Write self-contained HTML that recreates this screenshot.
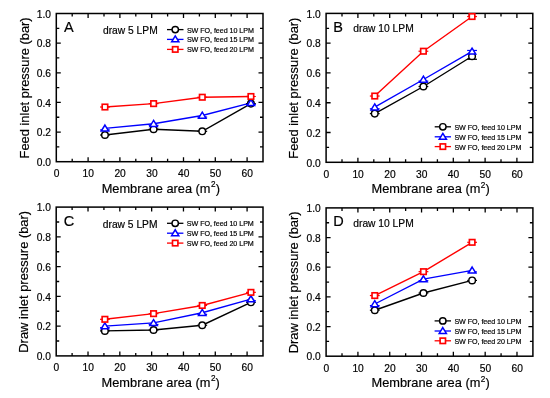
<!DOCTYPE html>
<html><head><meta charset="utf-8"><style>
html,body{margin:0;padding:0;background:#fff;width:550px;height:398px;overflow:hidden}
svg{display:block;will-change:transform}
text{font-family:"Liberation Sans", sans-serif;fill:#000;stroke:#000;stroke-width:0.18px}
.t{font-size:10px}
.ti{font-size:12.9px}
.tx{font-size:12.8px}
.le{font-size:14.5px}
.dr{font-size:10.25px}
.lg{font-size:7.15px;letter-spacing:-0.05px}
</style></head><body>
<svg width="550" height="398" viewBox="0 0 550 398">
<rect width="550" height="398" fill="#fff"/>
<path d="M72.20 161.70V158.70M72.20 13.50V16.50M88.10 161.70V157.20M88.10 13.50V18.00M104.00 161.70V158.70M104.00 13.50V16.50M119.90 161.70V157.20M119.90 13.50V18.00M135.80 161.70V158.70M135.80 13.50V16.50M151.70 161.70V157.20M151.70 13.50V18.00M167.60 161.70V158.70M167.60 13.50V16.50M183.50 161.70V157.20M183.50 13.50V18.00M199.40 161.70V158.70M199.40 13.50V16.50M215.30 161.70V157.20M215.30 13.50V18.00M231.20 161.70V158.70M231.20 13.50V16.50M247.10 161.70V157.20M247.10 13.50V18.00M56.30 146.88H59.30M263.00 146.88H260.00M56.30 132.06H60.80M263.00 132.06H258.50M56.30 117.24H59.30M263.00 117.24H260.00M56.30 102.42H60.80M263.00 102.42H258.50M56.30 87.60H59.30M263.00 87.60H260.00M56.30 72.78H60.80M263.00 72.78H258.50M56.30 57.96H59.30M263.00 57.96H260.00M56.30 43.14H60.80M263.00 43.14H258.50M56.30 28.32H59.30M263.00 28.32H260.00" stroke="#000" stroke-width="1.3" fill="none"/>
<rect x="56.30" y="13.50" width="206.70" height="148.20" fill="none" stroke="#000" stroke-width="1.5"/>
<text transform="translate(56.50,177.10) scale(1.025,1)" text-anchor="middle" class="t">0</text>
<text transform="translate(88.30,177.10) scale(1.025,1)" text-anchor="middle" class="t">10</text>
<text transform="translate(120.10,177.10) scale(1.025,1)" text-anchor="middle" class="t">20</text>
<text transform="translate(151.90,177.10) scale(1.025,1)" text-anchor="middle" class="t">30</text>
<text transform="translate(183.70,177.10) scale(1.025,1)" text-anchor="middle" class="t">40</text>
<text transform="translate(215.50,177.10) scale(1.025,1)" text-anchor="middle" class="t">50</text>
<text transform="translate(247.30,177.10) scale(1.025,1)" text-anchor="middle" class="t">60</text>
<text transform="translate(51.00,165.90) scale(1.025,1)" text-anchor="end" class="t">0.0</text>
<text transform="translate(51.00,136.26) scale(1.025,1)" text-anchor="end" class="t">0.2</text>
<text transform="translate(51.00,106.62) scale(1.025,1)" text-anchor="end" class="t">0.4</text>
<text transform="translate(51.00,76.98) scale(1.025,1)" text-anchor="end" class="t">0.6</text>
<text transform="translate(51.00,47.34) scale(1.025,1)" text-anchor="end" class="t">0.8</text>
<text transform="translate(51.00,17.70) scale(1.025,1)" text-anchor="end" class="t">1.0</text>
<text x="101.70" y="192.80" class="tx">Membrane area (m<tspan dx="0.5" dy="-5.6" font-size="8.2">2</tspan><tspan dx="0.1" dy="5.6">)</tspan></text>
<text transform="translate(28.60,87.90) rotate(-90)" text-anchor="middle" class="ti">Feed inlet pressure (bar)</text>
<text x="64.10" y="31.80" class="le">A</text>
<text x="103.00" y="34.00" class="dr">draw 5 LPM</text>
<polyline points="104.95,135.02 153.61,129.24 202.26,131.32 250.92,103.61" fill="none" stroke="#000" stroke-width="1.4"/>
<polyline points="104.95,128.35 153.61,123.76 202.26,115.46 250.92,102.86" fill="none" stroke="#00f" stroke-width="1.4"/>
<polyline points="104.95,107.01 153.61,103.61 202.26,97.23 250.92,96.49" fill="none" stroke="#f00" stroke-width="1.4"/>
<path d="M100.05 135.02H109.85" stroke="#000" stroke-width="1.2"/>
<path d="M148.71 129.24H158.51" stroke="#000" stroke-width="1.2"/>
<path d="M197.36 131.32H207.16" stroke="#000" stroke-width="1.2"/>
<path d="M246.02 103.61H255.82" stroke="#000" stroke-width="1.2"/>
<circle cx="104.95" cy="135.02" r="3.30" fill="#fff" stroke="#000" stroke-width="1.45"/>
<circle cx="153.61" cy="129.24" r="3.30" fill="#fff" stroke="#000" stroke-width="1.45"/>
<circle cx="202.26" cy="131.32" r="3.30" fill="#fff" stroke="#000" stroke-width="1.45"/>
<circle cx="250.92" cy="103.61" r="3.30" fill="#fff" stroke="#000" stroke-width="1.45"/>
<path d="M100.05 129.95H109.85" stroke="#00f" stroke-width="1.2"/>
<path d="M148.71 125.36H158.51" stroke="#00f" stroke-width="1.2"/>
<path d="M197.36 117.06H207.16" stroke="#00f" stroke-width="1.2"/>
<path d="M246.02 104.46H255.82" stroke="#00f" stroke-width="1.2"/>
<polygon points="104.95,125.05 108.65,131.05 101.25,131.05" fill="#fff" stroke="#00f" stroke-width="1.5" stroke-linejoin="miter"/>
<polygon points="153.61,120.46 157.31,126.46 149.91,126.46" fill="#fff" stroke="#00f" stroke-width="1.5" stroke-linejoin="miter"/>
<polygon points="202.26,112.16 205.96,118.16 198.56,118.16" fill="#fff" stroke="#00f" stroke-width="1.5" stroke-linejoin="miter"/>
<polygon points="250.92,99.56 254.62,105.56 247.22,105.56" fill="#fff" stroke="#00f" stroke-width="1.5" stroke-linejoin="miter"/>
<path d="M100.05 107.01H109.85" stroke="#f00" stroke-width="1.2"/>
<path d="M148.71 103.61H158.51" stroke="#f00" stroke-width="1.2"/>
<path d="M197.36 97.23H207.16" stroke="#f00" stroke-width="1.2"/>
<path d="M246.02 96.49H255.82" stroke="#f00" stroke-width="1.2"/>
<rect x="102.20" y="104.26" width="5.50" height="5.50" fill="#fff" stroke="#f00" stroke-width="1.65"/>
<rect x="150.86" y="100.86" width="5.50" height="5.50" fill="#fff" stroke="#f00" stroke-width="1.65"/>
<rect x="199.51" y="94.48" width="5.50" height="5.50" fill="#fff" stroke="#f00" stroke-width="1.65"/>
<rect x="248.17" y="93.74" width="5.50" height="5.50" fill="#fff" stroke="#f00" stroke-width="1.65"/>
<path d="M167.00 29.60H183.50" stroke="#000" stroke-width="1.3"/>
<circle cx="175.25" cy="29.60" r="3.20" fill="#fff" stroke="#000" stroke-width="1.45"/>
<text x="186.90" y="32.60" class="lg">SW FO, feed 10 LPM</text>
<path d="M167.00 39.40H183.50" stroke="#00f" stroke-width="1.3"/>
<polygon points="175.25,35.95 178.85,41.85 171.65,41.85" fill="#fff" stroke="#00f" stroke-width="1.5" stroke-linejoin="miter"/>
<text x="186.90" y="42.40" class="lg">SW FO, feed 15 LPM</text>
<path d="M167.00 49.40H183.50" stroke="#f00" stroke-width="1.3"/>
<rect x="172.55" y="46.70" width="5.40" height="5.40" fill="#fff" stroke="#f00" stroke-width="1.65"/>
<text x="186.90" y="52.40" class="lg">SW FO, feed 20 LPM</text>
<path d="M342.00 162.30V159.30M342.00 13.40V16.40M357.90 162.30V157.80M357.90 13.40V17.90M373.80 162.30V159.30M373.80 13.40V16.40M389.70 162.30V157.80M389.70 13.40V17.90M405.60 162.30V159.30M405.60 13.40V16.40M421.50 162.30V157.80M421.50 13.40V17.90M437.40 162.30V159.30M437.40 13.40V16.40M453.30 162.30V157.80M453.30 13.40V17.90M469.20 162.30V159.30M469.20 13.40V16.40M485.10 162.30V157.80M485.10 13.40V17.90M501.00 162.30V159.30M501.00 13.40V16.40M516.90 162.30V157.80M516.90 13.40V17.90M326.10 147.41H329.10M532.80 147.41H529.80M326.10 132.52H330.60M532.80 132.52H528.30M326.10 117.63H329.10M532.80 117.63H529.80M326.10 102.74H330.60M532.80 102.74H528.30M326.10 87.85H329.10M532.80 87.85H529.80M326.10 72.96H330.60M532.80 72.96H528.30M326.10 58.07H329.10M532.80 58.07H529.80M326.10 43.18H330.60M532.80 43.18H528.30M326.10 28.29H329.10M532.80 28.29H529.80" stroke="#000" stroke-width="1.3" fill="none"/>
<rect x="326.10" y="13.40" width="206.70" height="148.90" fill="none" stroke="#000" stroke-width="1.5"/>
<text transform="translate(326.30,177.70) scale(1.025,1)" text-anchor="middle" class="t">0</text>
<text transform="translate(358.10,177.70) scale(1.025,1)" text-anchor="middle" class="t">10</text>
<text transform="translate(389.90,177.70) scale(1.025,1)" text-anchor="middle" class="t">20</text>
<text transform="translate(421.70,177.70) scale(1.025,1)" text-anchor="middle" class="t">30</text>
<text transform="translate(453.50,177.70) scale(1.025,1)" text-anchor="middle" class="t">40</text>
<text transform="translate(485.30,177.70) scale(1.025,1)" text-anchor="middle" class="t">50</text>
<text transform="translate(517.10,177.70) scale(1.025,1)" text-anchor="middle" class="t">60</text>
<text transform="translate(320.80,166.50) scale(1.025,1)" text-anchor="end" class="t">0.0</text>
<text transform="translate(320.80,136.72) scale(1.025,1)" text-anchor="end" class="t">0.2</text>
<text transform="translate(320.80,106.94) scale(1.025,1)" text-anchor="end" class="t">0.4</text>
<text transform="translate(320.80,77.16) scale(1.025,1)" text-anchor="end" class="t">0.6</text>
<text transform="translate(320.80,47.38) scale(1.025,1)" text-anchor="end" class="t">0.8</text>
<text transform="translate(320.80,17.60) scale(1.025,1)" text-anchor="end" class="t">1.0</text>
<text x="371.50" y="193.40" class="tx">Membrane area (m<tspan dx="0.5" dy="-5.6" font-size="8.2">2</tspan><tspan dx="0.1" dy="5.6">)</tspan></text>
<text transform="translate(298.40,88.15) rotate(-90)" text-anchor="middle" class="ti">Feed inlet pressure (bar)</text>
<text x="333.30" y="31.90" class="le">B</text>
<text x="353.30" y="31.50" class="dr">draw 10 LPM</text>
<polyline points="374.75,113.61 423.41,86.51 472.06,56.28" fill="none" stroke="#000" stroke-width="1.4"/>
<polyline points="374.75,107.21 423.41,79.51 472.06,51.37" fill="none" stroke="#00f" stroke-width="1.4"/>
<polyline points="374.75,96.04 423.41,51.22 472.06,16.53" fill="none" stroke="#f00" stroke-width="1.4"/>
<path d="M369.85 113.61H379.65" stroke="#000" stroke-width="1.2"/>
<path d="M418.51 86.51H428.31" stroke="#000" stroke-width="1.2"/>
<path d="M467.16 59.28H476.96" stroke="#000" stroke-width="1.2"/>
<circle cx="374.75" cy="113.61" r="3.30" fill="#fff" stroke="#000" stroke-width="1.45"/>
<circle cx="423.41" cy="86.51" r="3.30" fill="#fff" stroke="#000" stroke-width="1.45"/>
<circle cx="472.06" cy="56.28" r="3.30" fill="#fff" stroke="#000" stroke-width="1.45"/>
<path d="M369.85 108.81H379.65" stroke="#00f" stroke-width="1.2"/>
<path d="M418.51 81.11H428.31" stroke="#00f" stroke-width="1.2"/>
<path d="M467.16 50.47H476.96" stroke="#00f" stroke-width="1.2"/>
<polygon points="374.75,103.91 378.45,109.91 371.05,109.91" fill="#fff" stroke="#00f" stroke-width="1.5" stroke-linejoin="miter"/>
<polygon points="423.41,76.21 427.11,82.21 419.71,82.21" fill="#fff" stroke="#00f" stroke-width="1.5" stroke-linejoin="miter"/>
<polygon points="472.06,48.07 475.76,54.07 468.36,54.07" fill="#fff" stroke="#00f" stroke-width="1.5" stroke-linejoin="miter"/>
<path d="M369.85 96.04H379.65" stroke="#f00" stroke-width="1.2"/>
<path d="M418.51 51.22H428.31" stroke="#f00" stroke-width="1.2"/>
<path d="M467.16 16.53H476.96" stroke="#f00" stroke-width="1.2"/>
<rect x="372.00" y="93.29" width="5.50" height="5.50" fill="#fff" stroke="#f00" stroke-width="1.65"/>
<rect x="420.66" y="48.47" width="5.50" height="5.50" fill="#fff" stroke="#f00" stroke-width="1.65"/>
<rect x="469.31" y="13.78" width="5.50" height="5.50" fill="#fff" stroke="#f00" stroke-width="1.65"/>
<path d="M434.70 126.80H451.00" stroke="#000" stroke-width="1.3"/>
<circle cx="442.85" cy="126.80" r="3.20" fill="#fff" stroke="#000" stroke-width="1.45"/>
<text x="454.40" y="129.80" class="lg">SW FO, feed 10 LPM</text>
<path d="M434.70 136.80H451.00" stroke="#00f" stroke-width="1.3"/>
<polygon points="442.85,133.35 446.45,139.25 439.25,139.25" fill="#fff" stroke="#00f" stroke-width="1.5" stroke-linejoin="miter"/>
<text x="454.40" y="139.80" class="lg">SW FO, feed 15 LPM</text>
<path d="M434.70 146.60H451.00" stroke="#f00" stroke-width="1.3"/>
<rect x="440.15" y="143.90" width="5.40" height="5.40" fill="#fff" stroke="#f00" stroke-width="1.65"/>
<text x="454.40" y="149.60" class="lg">SW FO, feed 20 LPM</text>
<path d="M72.11 355.90V352.90M72.11 207.10V210.10M88.02 355.90V351.40M88.02 207.10V211.60M103.92 355.90V352.90M103.92 207.10V210.10M119.83 355.90V351.40M119.83 207.10V211.60M135.74 355.90V352.90M135.74 207.10V210.10M151.65 355.90V351.40M151.65 207.10V211.60M167.55 355.90V352.90M167.55 207.10V210.10M183.46 355.90V351.40M183.46 207.10V211.60M199.37 355.90V352.90M199.37 207.10V210.10M215.28 355.90V351.40M215.28 207.10V211.60M231.18 355.90V352.90M231.18 207.10V210.10M247.09 355.90V351.40M247.09 207.10V211.60M56.20 341.02H59.20M263.00 341.02H260.00M56.20 326.14H60.70M263.00 326.14H258.50M56.20 311.26H59.20M263.00 311.26H260.00M56.20 296.38H60.70M263.00 296.38H258.50M56.20 281.50H59.20M263.00 281.50H260.00M56.20 266.62H60.70M263.00 266.62H258.50M56.20 251.74H59.20M263.00 251.74H260.00M56.20 236.86H60.70M263.00 236.86H258.50M56.20 221.98H59.20M263.00 221.98H260.00" stroke="#000" stroke-width="1.3" fill="none"/>
<rect x="56.20" y="207.10" width="206.80" height="148.80" fill="none" stroke="#000" stroke-width="1.5"/>
<text transform="translate(56.40,371.30) scale(1.025,1)" text-anchor="middle" class="t">0</text>
<text transform="translate(88.22,371.30) scale(1.025,1)" text-anchor="middle" class="t">10</text>
<text transform="translate(120.03,371.30) scale(1.025,1)" text-anchor="middle" class="t">20</text>
<text transform="translate(151.85,371.30) scale(1.025,1)" text-anchor="middle" class="t">30</text>
<text transform="translate(183.66,371.30) scale(1.025,1)" text-anchor="middle" class="t">40</text>
<text transform="translate(215.48,371.30) scale(1.025,1)" text-anchor="middle" class="t">50</text>
<text transform="translate(247.29,371.30) scale(1.025,1)" text-anchor="middle" class="t">60</text>
<text transform="translate(50.90,360.10) scale(1.025,1)" text-anchor="end" class="t">0.0</text>
<text transform="translate(50.90,330.34) scale(1.025,1)" text-anchor="end" class="t">0.2</text>
<text transform="translate(50.90,300.58) scale(1.025,1)" text-anchor="end" class="t">0.4</text>
<text transform="translate(50.90,270.82) scale(1.025,1)" text-anchor="end" class="t">0.6</text>
<text transform="translate(50.90,241.06) scale(1.025,1)" text-anchor="end" class="t">0.8</text>
<text transform="translate(50.90,211.30) scale(1.025,1)" text-anchor="end" class="t">1.0</text>
<text x="101.60" y="387.00" class="tx">Membrane area (m<tspan dx="0.5" dy="-5.6" font-size="8.2">2</tspan><tspan dx="0.1" dy="5.6">)</tspan></text>
<text transform="translate(28.00,281.80) rotate(-90)" text-anchor="middle" class="ti">Draw inlet pressure (bar)</text>
<text x="63.80" y="226.00" class="le">C</text>
<text x="102.80" y="227.90" class="dr">draw 5 LPM</text>
<polyline points="104.88,330.90 153.56,330.01 202.23,325.25 250.91,302.33" fill="none" stroke="#000" stroke-width="1.4"/>
<polyline points="104.88,326.14 153.56,322.87 202.23,312.75 250.91,299.06" fill="none" stroke="#00f" stroke-width="1.4"/>
<polyline points="104.88,319.30 153.56,313.64 202.23,305.46 250.91,292.36" fill="none" stroke="#f00" stroke-width="1.4"/>
<path d="M99.98 330.90H109.78" stroke="#000" stroke-width="1.2"/>
<path d="M148.66 330.01H158.46" stroke="#000" stroke-width="1.2"/>
<path d="M197.33 325.25H207.13" stroke="#000" stroke-width="1.2"/>
<path d="M246.01 302.33H255.81" stroke="#000" stroke-width="1.2"/>
<circle cx="104.88" cy="330.90" r="3.30" fill="#fff" stroke="#000" stroke-width="1.45"/>
<circle cx="153.56" cy="330.01" r="3.30" fill="#fff" stroke="#000" stroke-width="1.45"/>
<circle cx="202.23" cy="325.25" r="3.30" fill="#fff" stroke="#000" stroke-width="1.45"/>
<circle cx="250.91" cy="302.33" r="3.30" fill="#fff" stroke="#000" stroke-width="1.45"/>
<path d="M99.98 327.74H109.78" stroke="#00f" stroke-width="1.2"/>
<path d="M148.66 324.47H158.46" stroke="#00f" stroke-width="1.2"/>
<path d="M197.33 314.35H207.13" stroke="#00f" stroke-width="1.2"/>
<path d="M246.01 300.66H255.81" stroke="#00f" stroke-width="1.2"/>
<polygon points="104.88,322.84 108.58,328.84 101.18,328.84" fill="#fff" stroke="#00f" stroke-width="1.5" stroke-linejoin="miter"/>
<polygon points="153.56,319.57 157.26,325.57 149.86,325.57" fill="#fff" stroke="#00f" stroke-width="1.5" stroke-linejoin="miter"/>
<polygon points="202.23,309.45 205.93,315.45 198.53,315.45" fill="#fff" stroke="#00f" stroke-width="1.5" stroke-linejoin="miter"/>
<polygon points="250.91,295.76 254.61,301.76 247.21,301.76" fill="#fff" stroke="#00f" stroke-width="1.5" stroke-linejoin="miter"/>
<path d="M99.98 319.30H109.78" stroke="#f00" stroke-width="1.2"/>
<path d="M148.66 313.64H158.46" stroke="#f00" stroke-width="1.2"/>
<path d="M197.33 305.46H207.13" stroke="#f00" stroke-width="1.2"/>
<path d="M246.01 292.36H255.81" stroke="#f00" stroke-width="1.2"/>
<rect x="102.13" y="316.55" width="5.50" height="5.50" fill="#fff" stroke="#f00" stroke-width="1.65"/>
<rect x="150.81" y="310.89" width="5.50" height="5.50" fill="#fff" stroke="#f00" stroke-width="1.65"/>
<rect x="199.48" y="302.71" width="5.50" height="5.50" fill="#fff" stroke="#f00" stroke-width="1.65"/>
<rect x="248.16" y="289.61" width="5.50" height="5.50" fill="#fff" stroke="#f00" stroke-width="1.65"/>
<path d="M167.00 223.30H183.40" stroke="#000" stroke-width="1.3"/>
<circle cx="175.20" cy="223.30" r="3.20" fill="#fff" stroke="#000" stroke-width="1.45"/>
<text x="186.80" y="226.30" class="lg">SW FO, feed 10 LPM</text>
<path d="M167.00 233.20H183.40" stroke="#00f" stroke-width="1.3"/>
<polygon points="175.20,229.75 178.80,235.65 171.60,235.65" fill="#fff" stroke="#00f" stroke-width="1.5" stroke-linejoin="miter"/>
<text x="186.80" y="236.20" class="lg">SW FO, feed 15 LPM</text>
<path d="M167.00 243.10H183.40" stroke="#f00" stroke-width="1.3"/>
<rect x="172.50" y="240.40" width="5.40" height="5.40" fill="#fff" stroke="#f00" stroke-width="1.65"/>
<text x="186.80" y="246.10" class="lg">SW FO, feed 20 LPM</text>
<path d="M342.01 356.20V353.20M342.01 207.90V210.90M357.92 356.20V351.70M357.92 207.90V212.40M373.82 356.20V353.20M373.82 207.90V210.90M389.73 356.20V351.70M389.73 207.90V212.40M405.64 356.20V353.20M405.64 207.90V210.90M421.55 356.20V351.70M421.55 207.90V212.40M437.45 356.20V353.20M437.45 207.90V210.90M453.36 356.20V351.70M453.36 207.90V212.40M469.27 356.20V353.20M469.27 207.90V210.90M485.18 356.20V351.70M485.18 207.90V212.40M501.08 356.20V353.20M501.08 207.90V210.90M516.99 356.20V351.70M516.99 207.90V212.40M326.10 341.37H329.10M532.90 341.37H529.90M326.10 326.54H330.60M532.90 326.54H528.40M326.10 311.71H329.10M532.90 311.71H529.90M326.10 296.88H330.60M532.90 296.88H528.40M326.10 282.05H329.10M532.90 282.05H529.90M326.10 267.22H330.60M532.90 267.22H528.40M326.10 252.39H329.10M532.90 252.39H529.90M326.10 237.56H330.60M532.90 237.56H528.40M326.10 222.73H329.10M532.90 222.73H529.90" stroke="#000" stroke-width="1.3" fill="none"/>
<rect x="326.10" y="207.90" width="206.80" height="148.30" fill="none" stroke="#000" stroke-width="1.5"/>
<text transform="translate(326.30,371.60) scale(1.025,1)" text-anchor="middle" class="t">0</text>
<text transform="translate(358.12,371.60) scale(1.025,1)" text-anchor="middle" class="t">10</text>
<text transform="translate(389.93,371.60) scale(1.025,1)" text-anchor="middle" class="t">20</text>
<text transform="translate(421.75,371.60) scale(1.025,1)" text-anchor="middle" class="t">30</text>
<text transform="translate(453.56,371.60) scale(1.025,1)" text-anchor="middle" class="t">40</text>
<text transform="translate(485.38,371.60) scale(1.025,1)" text-anchor="middle" class="t">50</text>
<text transform="translate(517.19,371.60) scale(1.025,1)" text-anchor="middle" class="t">60</text>
<text transform="translate(320.80,360.40) scale(1.025,1)" text-anchor="end" class="t">0.0</text>
<text transform="translate(320.80,330.74) scale(1.025,1)" text-anchor="end" class="t">0.2</text>
<text transform="translate(320.80,301.08) scale(1.025,1)" text-anchor="end" class="t">0.4</text>
<text transform="translate(320.80,271.42) scale(1.025,1)" text-anchor="end" class="t">0.6</text>
<text transform="translate(320.80,241.76) scale(1.025,1)" text-anchor="end" class="t">0.8</text>
<text transform="translate(320.80,212.10) scale(1.025,1)" text-anchor="end" class="t">1.0</text>
<text x="371.50" y="387.30" class="tx">Membrane area (m<tspan dx="0.5" dy="-5.6" font-size="8.2">2</tspan><tspan dx="0.1" dy="5.6">)</tspan></text>
<text transform="translate(298.40,282.35) rotate(-90)" text-anchor="middle" class="ti">Draw inlet pressure (bar)</text>
<text x="333.30" y="226.00" class="le">D</text>
<text x="353.30" y="226.50" class="dr">draw 10 LPM</text>
<polyline points="374.78,310.23 423.46,293.02 472.13,280.42" fill="none" stroke="#000" stroke-width="1.4"/>
<polyline points="374.78,304.00 423.46,279.08 472.13,270.33" fill="none" stroke="#00f" stroke-width="1.4"/>
<polyline points="374.78,295.55 423.46,271.67 472.13,242.31" fill="none" stroke="#f00" stroke-width="1.4"/>
<path d="M369.88 310.23H379.68" stroke="#000" stroke-width="1.2"/>
<path d="M418.56 293.02H428.36" stroke="#000" stroke-width="1.2"/>
<path d="M467.23 280.42H477.03" stroke="#000" stroke-width="1.2"/>
<circle cx="374.78" cy="310.23" r="3.30" fill="#fff" stroke="#000" stroke-width="1.45"/>
<circle cx="423.46" cy="293.02" r="3.30" fill="#fff" stroke="#000" stroke-width="1.45"/>
<circle cx="472.13" cy="280.42" r="3.30" fill="#fff" stroke="#000" stroke-width="1.45"/>
<path d="M369.88 305.60H379.68" stroke="#00f" stroke-width="1.2"/>
<path d="M418.56 280.68H428.36" stroke="#00f" stroke-width="1.2"/>
<path d="M467.23 271.93H477.03" stroke="#00f" stroke-width="1.2"/>
<polygon points="374.78,300.70 378.48,306.70 371.08,306.70" fill="#fff" stroke="#00f" stroke-width="1.5" stroke-linejoin="miter"/>
<polygon points="423.46,275.78 427.16,281.78 419.76,281.78" fill="#fff" stroke="#00f" stroke-width="1.5" stroke-linejoin="miter"/>
<polygon points="472.13,267.03 475.83,273.03 468.43,273.03" fill="#fff" stroke="#00f" stroke-width="1.5" stroke-linejoin="miter"/>
<path d="M369.88 295.55H379.68" stroke="#f00" stroke-width="1.2"/>
<path d="M418.56 271.67H428.36" stroke="#f00" stroke-width="1.2"/>
<path d="M467.23 242.31H477.03" stroke="#f00" stroke-width="1.2"/>
<rect x="372.03" y="292.80" width="5.50" height="5.50" fill="#fff" stroke="#f00" stroke-width="1.65"/>
<rect x="420.71" y="268.92" width="5.50" height="5.50" fill="#fff" stroke="#f00" stroke-width="1.65"/>
<rect x="469.38" y="239.56" width="5.50" height="5.50" fill="#fff" stroke="#f00" stroke-width="1.65"/>
<path d="M434.60 320.90H451.00" stroke="#000" stroke-width="1.3"/>
<circle cx="442.80" cy="320.90" r="3.20" fill="#fff" stroke="#000" stroke-width="1.45"/>
<text x="454.40" y="323.90" class="lg">SW FO, feed 10 LPM</text>
<path d="M434.60 331.00H451.00" stroke="#00f" stroke-width="1.3"/>
<polygon points="442.80,327.55 446.40,333.45 439.20,333.45" fill="#fff" stroke="#00f" stroke-width="1.5" stroke-linejoin="miter"/>
<text x="454.40" y="334.00" class="lg">SW FO, feed 15 LPM</text>
<path d="M434.60 340.80H451.00" stroke="#f00" stroke-width="1.3"/>
<rect x="440.10" y="338.10" width="5.40" height="5.40" fill="#fff" stroke="#f00" stroke-width="1.65"/>
<text x="454.40" y="343.80" class="lg">SW FO, feed 20 LPM</text>
</svg>
</body></html>
